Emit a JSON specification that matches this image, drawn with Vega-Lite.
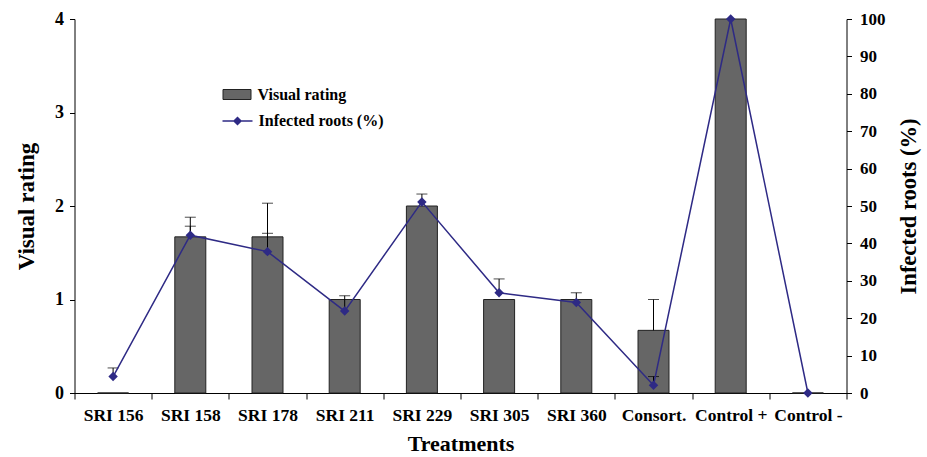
{
  "$schema": "https://vega.github.io/schema/vega-lite/v6.json",
  "width": 772,
  "height": 374,
  "autosize": {"type": "none"},
  "padding": {"left": 74.5, "top": 19, "right": 80.5, "bottom": 64},
  "background": "white",
  "config": {
    "view": {"stroke": null},
    "font": "Liberation Serif",
    "axis": {
      "grid": false,
      "domainColor": "#000000",
      "tickColor": "#000000",
      "labelColor": "#000000",
      "titleColor": "#000000",
      "labelFont": "Liberation Serif",
      "titleFont": "Liberation Serif",
      "labelFontWeight": "bold",
      "titleFontWeight": "bold",
      "labelFontSize": 17.5,
      "titleFontSize": 22.5,
      "tickSize": 5
    },
    "legend": {
      "labelFont": "Liberation Serif",
      "labelFontWeight": "bold",
      "labelFontSize": 16,
      "labelColor": "#000000",
      "labelOffset": 10
    }
  },
  "data": {
    "values": [
      {"treatment": "SRI 156", "rating": 0, "rating_hi": null, "infected": 4.4, "infected_hi": 6.7},
      {"treatment": "SRI 158", "rating": 1.67, "rating_hi": 1.88, "infected": 42.2, "infected_hi": 44.6},
      {"treatment": "SRI 178", "rating": 1.67, "rating_hi": 2.03, "infected": 37.8, "infected_hi": 42.7},
      {"treatment": "SRI 211", "rating": 1.0, "rating_hi": null, "infected": 21.9, "infected_hi": 26.0},
      {"treatment": "SRI 229", "rating": 2.0, "rating_hi": null, "infected": 51.1, "infected_hi": 53.2},
      {"treatment": "SRI 305", "rating": 1.0, "rating_hi": null, "infected": 26.8, "infected_hi": 30.5},
      {"treatment": "SRI 360", "rating": 1.0, "rating_hi": null, "infected": 24.2, "infected_hi": 26.8},
      {"treatment": "Consort.", "rating": 0.67, "rating_hi": 1.0, "infected": 2.1, "infected_hi": 4.4},
      {"treatment": "Control +", "rating": 4.0, "rating_hi": null, "infected": 100, "infected_hi": null},
      {"treatment": "Control -", "rating": 0, "rating_hi": null, "infected": 0, "infected_hi": null}
    ]
  },
  "encoding": {
    "x": {
      "field": "treatment",
      "type": "nominal",
      "sort": null,
      "scale": {"paddingInner": 0, "paddingOuter": 0},
      "axis": {
        "title": "Treatments",
        "labelAngle": 0,
        "tickBand": "extent",
        "tickSize": 6,
        "labelPadding": 7,
        "titlePadding": 10,
        "titleFontSize": 22
      }
    }
  },
  "layer": [
    {
      "layer": [
        {
          "mark": {"type": "bar", "size": 31, "stroke": "#222222", "strokeWidth": 1},
          "encoding": {
            "y": {
              "field": "rating",
              "type": "quantitative",
              "scale": {"domain": [0, 4]},
              "axis": {"orient": "left", "title": "Visual rating", "values": [0, 1, 2, 3, 4], "titlePadding": 16, "labelPadding": 6, "labelFontSize": 18, "titleFontSize": 23}
            },
            "fill": {
              "datum": "Visual rating",
              "scale": {"range": ["#666666"]},
              "legend": {
                "orient": "none",
                "legendX": 152,
                "legendY": 65,
                "title": null,
                "symbolType": "M-1.4,-0.5H1.4V0.5H-1.4Z",
                "symbolSize": 400,
                "symbolStrokeColor": "#222222",
                "symbolStrokeWidth": 1
              }
            }
          }
        },
        {
          "transform": [{"filter": "datum.rating_hi != null"}],
          "mark": {"type": "rule", "color": "#000000", "strokeWidth": 1},
          "encoding": {
            "y": {"field": "rating", "type": "quantitative", "axis": {"orient": "left", "title": "Visual rating", "values": [0, 1, 2, 3, 4], "titlePadding": 16, "labelPadding": 6, "labelFontSize": 18, "titleFontSize": 23}},
            "y2": {"field": "rating_hi"}
          }
        },
        {
          "transform": [{"filter": "datum.rating_hi != null"}],
          "mark": {"type": "tick", "color": "#000000", "size": 11, "thickness": 1},
          "encoding": {
            "y": {"field": "rating_hi", "type": "quantitative", "axis": {"orient": "left", "title": "Visual rating", "values": [0, 1, 2, 3, 4], "titlePadding": 16, "labelPadding": 6, "labelFontSize": 18, "titleFontSize": 23}}
          }
        }
      ]
    },
    {
      "layer": [
        {
          "transform": [{"filter": "datum.infected_hi != null"}],
          "mark": {"type": "rule", "color": "#000000", "strokeWidth": 1},
          "encoding": {
            "y": {"field": "infected", "type": "quantitative", "scale": {"domain": [0, 100]}, "axis": {"orient": "right", "title": "Infected roots (%)", "values": [0, 10, 20, 30, 40, 50, 60, 70, 80, 90, 100], "titleAngle": -90, "titleBaseline": "top", "titlePadding": 12, "labelPadding": 8, "labelFontSize": 17}},
            "y2": {"field": "infected_hi"}
          }
        },
        {
          "transform": [{"filter": "datum.infected_hi != null"}],
          "mark": {"type": "tick", "color": "#000000", "size": 11, "thickness": 1},
          "encoding": {
            "y": {"field": "infected_hi", "type": "quantitative", "axis": {"orient": "right", "title": "Infected roots (%)", "values": [0, 10, 20, 30, 40, 50, 60, 70, 80, 90, 100], "titleAngle": -90, "titleBaseline": "top", "titlePadding": 12, "labelPadding": 8, "labelFontSize": 17}}
          }
        },
        {
          "mark": {"type": "line", "strokeWidth": 1.5},
          "encoding": {
            "y": {"field": "infected", "type": "quantitative", "axis": {"orient": "right", "title": "Infected roots (%)", "values": [0, 10, 20, 30, 40, 50, 60, 70, 80, 90, 100], "titleAngle": -90, "titleBaseline": "top", "titlePadding": 12, "labelPadding": 8, "labelFontSize": 17}},
            "stroke": {
              "datum": "Infected roots (%)",
              "scale": {"range": ["#2e2a85"]},
              "legend": {
                "orient": "none",
                "legendX": 152,
                "legendY": 91,
                "title": null,
                "symbolType": "M-1.5,0H1.5M-0.35,0L0,-0.35L0.35,0L0,0.35Z",
                "symbolSize": 400,
                "symbolFillColor": "#2e2a85",
                "symbolStrokeWidth": 1.5
              }
            }
          }
        },
        {
          "mark": {"type": "point", "shape": "diamond", "filled": true, "size": 90, "color": "#2e2a85", "opacity": 1},
          "encoding": {
            "y": {"field": "infected", "type": "quantitative", "axis": {"orient": "right", "title": "Infected roots (%)", "values": [0, 10, 20, 30, 40, 50, 60, 70, 80, 90, 100], "titleAngle": -90, "titleBaseline": "top", "titlePadding": 12, "labelPadding": 8, "labelFontSize": 17}}
          }
        }
      ]
    }
  ],
  "resolve": {"scale": {"y": "independent", "fill": "independent", "stroke": "independent"}}
}
